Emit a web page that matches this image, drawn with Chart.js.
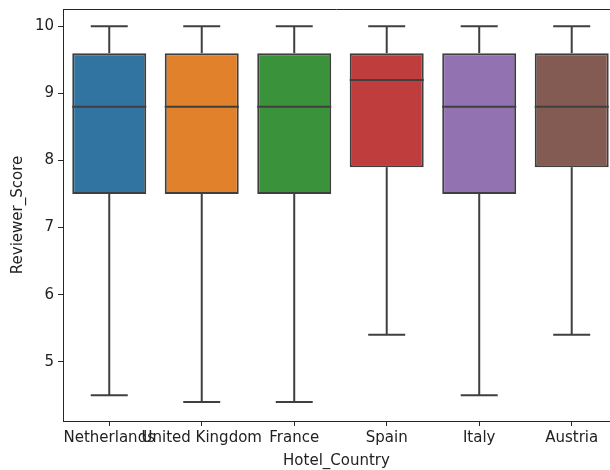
<!DOCTYPE html>
<html>
<head>
<meta charset="utf-8">
<script src="https://cdn.jsdelivr.net/npm/chart.js@4"></script>
<style>
  html, body { margin: 0; padding: 0; background: #fff; overflow: hidden; }
</style>
</head>
<body>
<canvas id="c" width="610" height="470"></canvas>
<script>
// Reviewer score distribution per hotel country
const countries = ['Netherlands', 'United Kingdom', 'France', 'Spain', 'Italy', 'Austria'];
const whiskerLow  = [4.5, 4.4, 4.4, 5.4, 4.5, 5.4];
const quartile1   = [7.5, 7.5, 7.5, 7.9, 7.5, 7.9];
const medians     = [8.8, 8.8, 8.8, 9.2, 8.8, 8.8];
const quartile3   = [9.6, 9.6, 9.6, 9.6, 9.6, 9.6];
const whiskerHigh = [10, 10, 10, 10, 10, 10];
const yTicks = [5, 6, 7, 8, 9, 10];

const boxColors = ['#3274a1', '#e1812c', '#3a923a', '#c03d3e', '#9372b2', '#845b53'];
const lineColor = '#3f3f3f';
const fontFamily = '"DejaVu Sans", sans-serif';

// Whiskers, caps and median lines drawn on top of the floating bars
const boxExtras = {
  id: 'boxExtras',
  afterDatasetsDraw(chart) {
    const ctx = chart.ctx;
    const x = chart.scales.x, y = chart.scales.y;
    const meta = chart.getDatasetMeta(0);
    ctx.save();
    ctx.strokeStyle = lineColor;
    ctx.lineWidth = 2;
    ctx.lineCap = 'butt';
    const line = (x1, y1, x2, y2) => {
      ctx.beginPath(); ctx.moveTo(x1, y1); ctx.lineTo(x2, y2); ctx.stroke();
    };
    countries.forEach((c, i) => {
      const bar = meta.data[i];
      const cx = x.getPixelForValue(i);
      const half = bar.width / 2;
      const capHalf = half / 2;
      // upper whisker and cap
      line(cx, y.getPixelForValue(quartile3[i]), cx, y.getPixelForValue(whiskerHigh[i]));
      line(cx - capHalf, y.getPixelForValue(whiskerHigh[i]), cx + capHalf, y.getPixelForValue(whiskerHigh[i]));
      // lower whisker and cap
      line(cx, y.getPixelForValue(quartile1[i]), cx, y.getPixelForValue(whiskerLow[i]));
      line(cx - capHalf, y.getPixelForValue(whiskerLow[i]), cx + capHalf, y.getPixelForValue(whiskerLow[i]));
      // median
      line(cx - half, y.getPixelForValue(medians[i]), cx + half, y.getPixelForValue(medians[i]));
    });
    ctx.restore();
  }
};

// Top spine of the axes frame
const frame = {
  id: 'frame',
  afterDraw(chart) {
    const a = chart.chartArea, ctx = chart.ctx;
    ctx.save();
    ctx.strokeStyle = '#262626';
    ctx.lineWidth = 1;
    ctx.beginPath();
    ctx.moveTo(a.left, a.top + 0.5);
    ctx.lineTo(chart.width, a.top + 0.5);
    ctx.stroke();
    ctx.restore();
  }
};

new Chart(document.getElementById('c'), {
  type: 'bar',
  data: {
    datasets: [{
      data: countries.map((c, i) => ({ x: i, y: [quartile1[i], quartile3[i]] })),
      backgroundColor: boxColors,
      borderColor: lineColor,
      borderWidth: 2,
      borderSkipped: false,
      categoryPercentage: 1,
      barPercentage: 0.8
    }]
  },
  options: {
    responsive: false,
    maintainAspectRatio: false,
    animation: false,
    devicePixelRatio: 1,
    layout: { padding: { top: 9, right: 0, left: 0, bottom: 0 } },
    plugins: { legend: { display: false }, tooltip: { enabled: false } },
    scales: {
      x: {
        type: 'linear',
        // the axes run half a category past the last box, beyond the canvas edge
        min: -0.5,
        max: 5.414,
        offset: false,
        afterBuildTicks(scale) { scale.ticks = countries.map((c, i) => ({ value: i })); },
        grid: { display: true, offset: false, drawOnChartArea: false, drawTicks: true, tickLength: 5, color: '#262626' },
        border: { display: true, color: '#262626', width: 1 },
        ticks: {
          color: '#222', font: { family: fontFamily, size: 15 }, padding: 3, maxRotation: 0, autoSkip: false,
          callback: (v) => countries[v]
        },
        title: { display: true, text: 'Hotel_Country', color: '#222', font: { family: fontFamily, size: 15 }, padding: { top: 1, bottom: 0 } },
        afterFit(scale) { scale.height = 49; scale.paddingLeft = 0; scale.paddingRight = 0; }
      },
      y: {
        min: 4.116,
        max: 10.258,
        afterBuildTicks(scale) { scale.ticks = yTicks.map(v => ({ value: v })); },
        grid: { display: true, drawOnChartArea: false, drawTicks: true, tickLength: 5, color: '#262626' },
        border: { display: true, color: '#262626', width: 1 },
        ticks: { color: '#222', font: { family: fontFamily, size: 15 }, padding: 4 },
        title: { display: true, text: 'Reviewer_Score', color: '#222', font: { family: fontFamily, size: 15 }, padding: { top: 9, bottom: 4 } },
        afterFit(scale) { scale.width = 63; scale.paddingTop = 0; scale.paddingBottom = 0; }
      }
    }
  },
  plugins: [boxExtras, frame]
});
</script>
</body>
</html>
